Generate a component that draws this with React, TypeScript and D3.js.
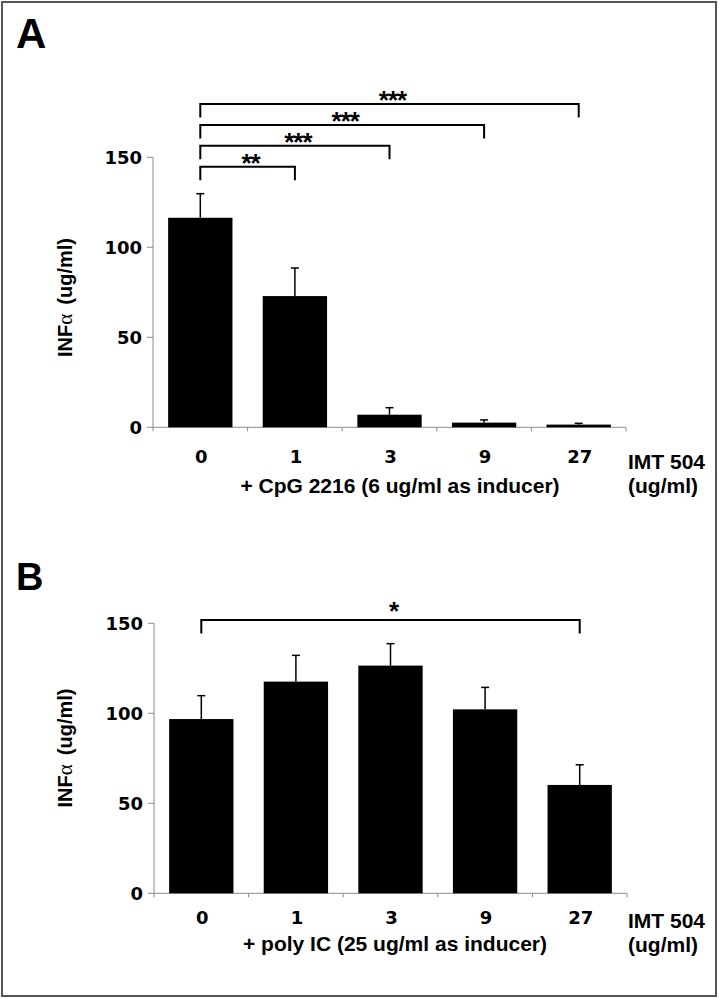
import React from "react";
import * as d3 from "d3";

const categories = ["0", "1", "3", "9", "27"];
const valuesA = [116.4, 72.9, 7.0, 2.6, 1.5];
const errTopA = [129.8, 88.5, 10.9, 4.1, 2.2];
const valuesB = [96.8, 117.6, 126.5, 102.2, 60.2];
const errTopB = [109.8, 132.2, 138.7, 114.4, 71.4];
const yTicks = [0, 50, 100, 150];

const bracketsA = [
  { from: "0", to: "27", level: 179.6, label: "***" },
  { from: "0", to: "9", level: 168, label: "***" },
  { from: "0", to: "3", level: 156.4, label: "***" },
  { from: "0", to: "1", level: 144.8, label: "**" },
];
const bracketsB = [{ from: "0", to: "27", level: 151.8, label: "*" }];

const panelA = {
  letter: "A",
  letterSize: 42,
  letterY: 48,
  values: valuesA,
  errTop: errTopA,
  brackets: bracketsA,
  x0: 153,
  x1: 626,
  yTop: 157.3,
  yBottom: 427.3,
  tickDy: 36,
  imtDy: 42,
  xlabel: "+ CpG 2216 (6 ug/ml as inducer)",
  xlabelX: 400,
  xlabelDy: 66,
  titleY: 297.5,
  starDy: 5,
};
const panelB = {
  letter: "B",
  letterSize: 38,
  letterY: 590,
  values: valuesB,
  errTop: errTopB,
  brackets: bracketsB,
  x0: 154,
  x1: 627,
  yTop: 623.3,
  yBottom: 893.3,
  tickDy: 31,
  imtDy: 35,
  xlabel: "+ poly IC (25 ug/ml as inducer)",
  xlabelX: 395,
  xlabelDy: 58,
  titleY: 748,
  starDy: 0,
};

const SANS = "'Liberation Sans', Arial, sans-serif";
const TICKFONT = "'DejaVu Sans', sans-serif";

function Panel({ p }: { p: typeof panelA }) {
  const pi = 0.32;
  const x = d3
    .scaleBand<string>()
    .domain(categories)
    .range([p.x0, p.x1])
    .paddingInner(pi)
    .paddingOuter(pi / 2);
  const y = d3.scaleLinear().domain([0, 150]).range([p.yBottom, p.yTop]);
  const bw = x.bandwidth();
  const half = (x.step() * pi) / 2;
  const cx = (c: string) => (x(c) as number) + bw / 2;
  const axisColor = "#8a8a8a";
  return (
    <g>
      <text x={16} y={p.letterY} fontFamily={SANS} fontWeight="bold" fontSize={p.letterSize}>
        {p.letter}
      </text>
      {/* y axis */}
      <line x1={p.x0} x2={p.x0} y1={y(150)} y2={p.yBottom + 4} stroke={axisColor} strokeWidth={1} />
      {yTicks.map((t) => (
        <g key={t}>
          <line x1={p.x0 - 6} x2={p.x0} y1={y(t)} y2={y(t)} stroke={axisColor} strokeWidth={1} />
          <text
            x={p.x0 - 11}
            y={y(t) + 6.5}
            textAnchor="end"
            fontFamily={TICKFONT}
            fontWeight="bold"
            fontSize={18}
          >
            {t}
          </text>
        </g>
      ))}
      {/* x axis */}
      <line x1={p.x0} x2={p.x1} y1={p.yBottom} y2={p.yBottom} stroke={axisColor} strokeWidth={1} />
      {categories.map((c) => (
        <line
          key={c}
          x1={(x(c) as number) + bw + half}
          x2={(x(c) as number) + bw + half}
          y1={p.yBottom}
          y2={p.yBottom + 4}
          stroke={axisColor}
          strokeWidth={1}
        />
      ))}
      {/* bars */}
      {categories.map((c, i) => (
        <g key={c}>
          <line x1={cx(c)} x2={cx(c)} y1={y(p.values[i])} y2={y(p.errTop[i])} stroke="#000" strokeWidth={1.5} />
          <line x1={cx(c) - 4} x2={cx(c) + 4} y1={y(p.errTop[i])} y2={y(p.errTop[i])} stroke="#000" strokeWidth={1.5} />
          <rect
            x={x(c) as number}
            y={y(p.values[i])}
            width={bw}
            height={p.yBottom - y(p.values[i])}
            fill="#000"
          />
          <text
            x={cx(c) + 1}
            y={p.yBottom + p.tickDy}
            textAnchor="middle"
            fontFamily={TICKFONT}
            fontWeight="bold"
            fontSize={18}
          >
            {c}
          </text>
        </g>
      ))}
      {/* brackets */}
      {p.brackets.map((b, i) => {
        const xa = cx(b.from);
        const xb = cx(b.to);
        const yl = y(b.level);
        const drop = 13.5;
        return (
          <g key={i}>
            <path
              d={`M${xa},${yl + drop}V${yl}H${xb}V${yl + drop}`}
              fill="none"
              stroke="#000"
              strokeWidth={2}
            />
            <text
              x={(xa + xb) / 2 + 3}
              y={yl + p.starDy}
              textAnchor="middle"
              fontFamily={SANS}
              fontWeight="bold"
              fontSize={26}
              letterSpacing={-1}
            >
              {b.label}
            </text>
          </g>
        );
      })}
      {/* labels */}
      <text x={628} y={p.yBottom + p.imtDy} fontFamily={SANS} fontWeight="bold" fontSize={21}>
        IMT 504
      </text>
      <text x={628} y={p.yBottom + p.imtDy + 24} fontFamily={SANS} fontWeight="bold" fontSize={21}>
        (ug/ml)
      </text>
      <text
        x={p.xlabelX}
        y={p.yBottom + p.xlabelDy}
        textAnchor="middle"
        fontFamily={SANS}
        fontWeight="bold"
        fontSize={21}
      >
        {p.xlabel}
      </text>
      <text
        transform={`translate(72,${p.titleY}) rotate(-90)`}
        textAnchor="middle"
        fontFamily={SANS}
        fontWeight="bold"
        fontSize={20}
      >
        INF
        <tspan fontFamily="'Liberation Serif', serif" fontWeight="normal" fontSize={21}>
          α
        </tspan>
        <tspan dx={9}>(ug/ml)</tspan>
      </text>
    </g>
  );
}

export default function App() {
  return (
    <svg
      width={719}
      height={999}
      style={{ position: "absolute", left: 0, top: 0, display: "block", background: "#fff" }}
    >
      <rect x={0} y={0} width={719} height={999} fill="#fff" />
      <rect x={2} y={2} width={714} height={994} fill="none" stroke="#555" strokeWidth={2} />
      <Panel p={panelA} />
      <Panel p={panelB} />
    </svg>
  );
}
